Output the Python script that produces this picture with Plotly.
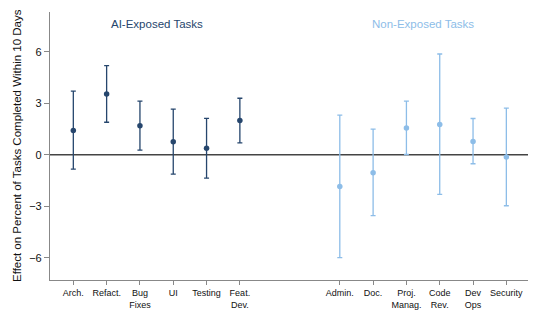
import plotly.graph_objects as go

# Task categories and estimated effects with 95% CI bounds
ai_tasks = ["Arch.", "Refact.", "Bug<br>Fixes", "UI", "Testing", "Feat.<br>Dev."]
ai_est = [1.42, 3.55, 1.69, 0.76, 0.39, 2.0]
ai_hi = [3.71, 5.2, 3.13, 2.66, 2.13, 3.3]
ai_lo = [-0.83, 1.9, 0.27, -1.13, -1.36, 0.7]

non_tasks = ["Admin.", "Doc.", "Proj.<br>Manag.", "Code<br>Rev.", "Dev<br>Ops", "Security"]
non_est = [-1.85, -1.05, 1.57, 1.77, 0.78, -0.13]
non_hi = [2.31, 1.5, 3.13, 5.88, 2.12, 2.72]
non_lo = [-6.0, -3.55, 0.02, -2.31, -0.52, -2.97]

ai_pos = [1, 2, 3, 4, 5, 6]
non_pos = [9, 10, 11, 12, 13, 14]

y_ticks = [-6, -3, 0, 3, 6]

NAVY = "#26466d"
LIGHT = "#8dbde8"
FONT = "Liberation Sans, Arial, Helvetica, sans-serif"

fig = go.Figure()


def add_group(pos, est, hi, lo, color):
    fig.add_trace(go.Scatter(
        x=pos, y=est, mode="markers",
        marker=dict(color=color, size=5.5),
        error_y=dict(type="data", symmetric=False,
                     array=[h - e for h, e in zip(hi, est)],
                     arrayminus=[e - l for e, l in zip(est, lo)],
                     color=color, thickness=1.3, width=2.5),
        showlegend=False, hoverinfo="skip",
    ))


add_group(ai_pos, ai_est, ai_hi, ai_lo, NAVY)
add_group(non_pos, non_est, non_hi, non_lo, LIGHT)

# zero reference line
fig.add_shape(type="line", xref="paper", yref="y", x0=0, x1=1, y0=0, y1=0,
              line=dict(color="#444444", width=1.5), layer="below")

fig.add_annotation(x=3.5, y=1, xref="x", yref="paper", yanchor="bottom",
                   yshift=-20, text="AI-Exposed Tasks", showarrow=False,
                   font=dict(color=NAVY, size=11.5, family=FONT))
fig.add_annotation(x=11.5, y=1, xref="x", yref="paper", yanchor="bottom",
                   yshift=-20, text="Non-Exposed Tasks", showarrow=False,
                   font=dict(color=LIGHT, size=11.5, family=FONT))
fig.add_annotation(x=-0.069, y=0.5, xref="paper", yref="paper",
                   text="Effect on Percent of Tasks Completed Within 10 Days",
                   textangle=-90, showarrow=False, xanchor="center", yanchor="middle",
                   font=dict(color="#111111", size=11.5, family=FONT))

fig.update_layout(
    width=540, height=324,
    margin=dict(l=50, r=12, t=12, b=44),
    paper_bgcolor="white", plot_bgcolor="white",
    font=dict(family=FONT, color="#111111"),
    xaxis=dict(range=[0.3, 14.65], tickmode="array",
               tickvals=ai_pos + non_pos, ticktext=ai_tasks + non_tasks,
               showgrid=False, zeroline=False, showline=True,
               linecolor="#888888", linewidth=1.2,
               ticks="outside", ticklen=4, tickcolor="#888888",
               tickfont=dict(size=9, family=FONT, color="#111111")),
    yaxis=dict(range=[-7.3, 8.33], tickmode="array", tickvals=y_ticks,
               showgrid=False, zeroline=False, showline=True,
               linecolor="#888888", linewidth=1.2,
               ticks="outside", ticklen=5, tickcolor="#888888",
               tickfont=dict(size=11, family=FONT, color="#111111")),
)

fig.write_html("out.html")
